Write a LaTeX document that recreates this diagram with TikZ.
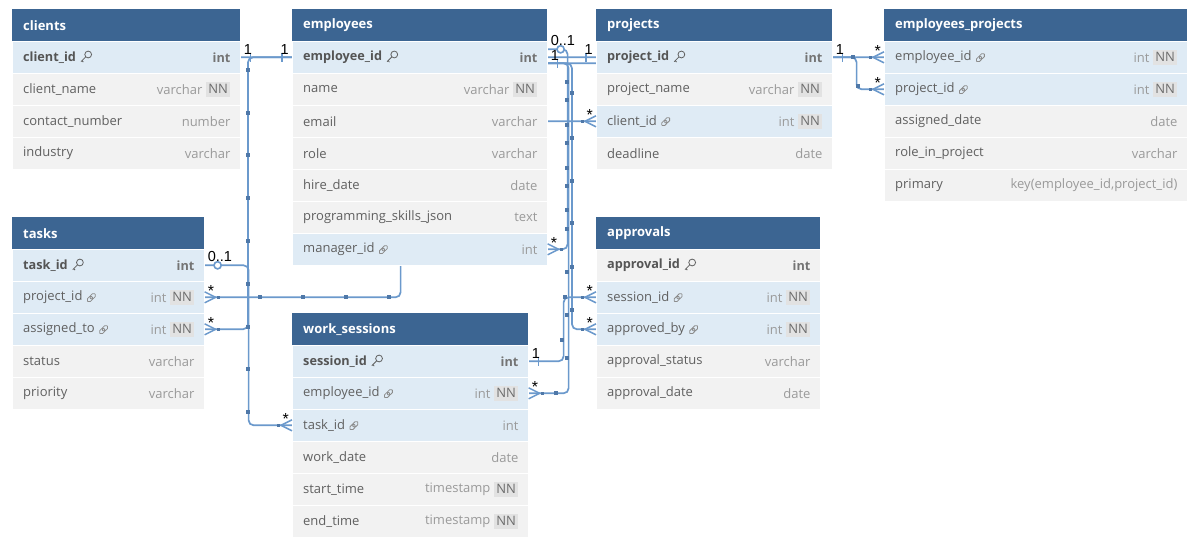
\documentclass[tikz,border=0pt]{standalone}
\usepackage{fontspec}
\setmainfont{Open Sans}
\newfontfamily\lblfont{Liberation Sans}
\usetikzlibrary{calc}

\definecolor{hdrblue}{HTML}{3C6592}
\definecolor{rowb}{HTML}{DFEBF5}
\definecolor{rowg}{HTML}{F2F2F2}
\definecolor{lineblue}{HTML}{6B99CC}
\definecolor{hndblue}{HTML}{4F78A8}
\definecolor{fldgray}{HTML}{606060}
\definecolor{keygray}{HTML}{555555}
\definecolor{tygray}{HTML}{9A9A9A}
\definecolor{nngray}{HTML}{E2E2E2}

\pgfdeclarelayer{canvas}
\pgfdeclarelayer{wires}
\pgfsetlayers{canvas,wires,main}

\tikzset{
	hdr/.style={rectangle, fill=hdrblue, anchor=north west, minimum height=32, inner sep=0},
	title/.style={font=\fontsize{13}{15}\selectfont\bfseries, text=white, inner sep=0, anchor=west},
	row/.style={rectangle, anchor=north west, minimum height=32, inner sep=0, draw=white, line width=0.6},
	fld/.style={font=\fontsize{13}{15}\selectfont, text=fldgray, inner sep=0, anchor=west},
	fn-keyicon/.style={font=\fontsize{12.7}{15}\selectfont\bfseries, text=keygray},
	fn-linkicon/.style={}, fn-noicon/.style={},
	ty/.style={font=\fontsize{13}{15}\selectfont, text=tygray, inner sep=0, anchor=east},
	ty-keyicon/.style={font=\fontsize{12.7}{15}\selectfont\bfseries, text=tygray!75!black},
	ty-linkicon/.style={}, ty-noicon/.style={},
	nnbox/.style={font=\fontsize{13}{15}\selectfont, text=gray!85!black, fill=nngray, inner xsep=2.5, inner ysep=3, anchor=east},
	icon/.style={draw=gray!90, line width=0.8},
	card/.style={font=\lblfont\fontsize{14.5}{14}\selectfont, inner sep=1, text=black},
	star/.style={card, font=\lblfont\fontsize{16}{14}\selectfont},
	conn/.style={draw=lineblue, line width=1.7, rounded corners=5}
}

% one table: name, x, y, width, title, rows
\newcommand{\dbtable}[6]{
	\node[hdr, minimum width=#4] (#1) at (#2,#3) {};
	\node[title] (#1-h) at ([xshift=11]#1.west) {#5};
	\foreach \fname/\ftype/\fbg/\ficon/\fnn [count=\i] in {#6} {
		\node[row, fill=\fbg, minimum width=#4] (#1-\i) at (#2,#3+32*\i) {};
		\node[fld, fn-\ficon] (#1-\i-n) at ([xshift=11]#1-\i.west) {\fname};
		\pic at ([xshift=4]#1-\i-n.east) {\ficon};
		\if y\fnn
			\node[nnbox] (#1-\i-nn) at ([xshift=-10]#1-\i.east) {NN};
			\node[ty, ty-\ficon] (#1-\i-t) at ([xshift=-3]#1-\i-nn.west) {\ftype};
		\else
			\node[ty, ty-\ficon] (#1-\i-t) at ([xshift=-10]#1-\i.east) {\ftype};
		\fi
	}
}

\begin{document}
\begin{tikzpicture}[x=1pt, y=-1pt,
		keyicon/.pic={\draw[icon, draw=fldgray] (8,-2.8) circle (3.4) (5.5,-0.3) -- (0.8,4.4) (1.8,3.4) -- (3.2,4.8);},
		linkicon/.pic={\draw[icon, rounded corners=1.6, shift={(1,4)}, rotate=45] (0,-2) rectangle (6.2,2) (4,-2) rectangle (10.2,2);},
		noicon/.pic={},
		many/.pic={\draw[lineblue, line width=1.5] (0,-5.5) -- (11,0) -- (0,5.5); \fill[hndblue] (12,-1.6) rectangle (15.2,1.6);},
		one/.pic={\draw[lineblue, line width=1.7] (10,-4.5) -- (10,4.5);},
		zeroone/.pic={\draw[lineblue, line width=1.6, fill=white] (13,0) circle (3.6);}
	]
	\useasboundingbox (0,0) rectangle (1192,540);
	\begin{pgfonlayer}{canvas}
		\fill[white] (0,0) rectangle (1192,540);
	\end{pgfonlayer}

	\dbtable{clients}{12}{9}{228}{clients}{
		client\_id/int/rowb/keyicon/n,
		client\_name/varchar/rowg/noicon/y,
		contact\_number/number/rowg/noicon/n,
		industry/varchar/rowg/noicon/n}
	\dbtable{employees}{292}{9}{255}{employees}{
		employee\_id/int/rowb/keyicon/n,
		name/varchar/rowg/noicon/y,
		email/varchar/rowg/noicon/n,
		role/varchar/rowg/noicon/n,
		hire\_date/date/rowg/noicon/n,
		programming\_skills\_json/text/rowg/noicon/n,
		manager\_id/int/rowb/linkicon/n}
	\dbtable{projects}{596}{9}{236}{projects}{
		project\_id/int/rowb/keyicon/n,
		project\_name/varchar/rowg/noicon/y,
		client\_id/int/rowb/linkicon/y,
		deadline/date/rowg/noicon/n}
	\dbtable{empproj}{884}{9}{303}{employees\_projects}{
		employee\_id/int/rowb/linkicon/y,
		project\_id/int/rowb/linkicon/y,
		assigned\_date/date/rowg/noicon/n,
		role\_in\_project/varchar/rowg/noicon/n,
		primary/{key(employee\_id,project\_id)}/rowg/noicon/n}
	\dbtable{tasks}{12}{217}{192}{tasks}{
		task\_id/int/rowb/keyicon/n,
		project\_id/int/rowb/linkicon/y,
		assigned\_to/int/rowb/linkicon/y,
		status/varchar/rowg/noicon/n,
		priority/varchar/rowg/noicon/n}
	\dbtable{worksessions}{292}{313}{236}{work\_sessions}{
		session\_id/int/rowb/keyicon/n,
		employee\_id/int/rowb/linkicon/y,
		task\_id/int/rowb/linkicon/n,
		work\_date/date/rowg/noicon/n,
		start\_time/timestamp/rowg/noicon/y,
		end\_time/timestamp/rowg/noicon/y}
	\dbtable{approvals}{596}{217}{224}{approvals}{
		approval\_id/int/rowg/keyicon/n,
		session\_id/int/rowb/linkicon/y,
		approved\_by/int/rowb/linkicon/y,
		approval\_status/varchar/rowg/noicon/n,
		approval\_date/date/rowg/noicon/n}

	% relations, drawn under the tables
	\begin{pgfonlayer}{wires}
		\draw[conn] (employees-1.west) -- ++(-44,0) |- (tasks-3.east);
		\draw[conn] (clients-1.east) -- ++(180,0) |- (projects-3.west);
		\draw[conn] (tasks-1.east) -- ++(44,0) |- (worksessions-3.west);
		\draw[conn] (tasks-2.east) -- ++(196,0) |- (projects-1.west);
		\draw[conn] ([yshift=8]employees-1.east) -- ++(20,0) |- (employees-7.east);
		\draw[conn] (worksessions-2.east) -- ++(40,0) |- ([yshift=-6]employees-1.east);
		\draw[conn] (approvals-3.west) -- ++(-24,0) |- ([yshift=-6]employees-1.east);
		\draw[conn] (empproj-1.west) -- ++(-140,0) |- ([yshift=-6]employees-1.east);
		\draw[conn] (projects-1.east) -- ++(24,0) |- (empproj-2.west);
		\draw[conn] (worksessions-1.east) -- ++(35,0) |- (approvals-2.west);
		% handles
		\foreach \hx/\hy in {248/70, 248/113, 248/155, 248/198, 248/241, 248/284, 248/327, 248/369, 248/412,
				260/297, 303/297, 346/297, 389/297,
				567/82, 567/100, 567/125, 567/143, 567/168, 567/186, 567/210, 567/229, 567/272, 567/315, 567/358,
				572/93, 572/138, 572/181, 572/223, 572/267, 572/310,
				562/340, 556/393, 565/297, 853/57, 858/86}
			\fill[hndblue] (\hx-1.6,\hy-1.6) rectangle ++(3.2,3.2);
	\end{pgfonlayer}

	% ends of the relations
	\pic at (clients-1.east) {one};
	\pic[xscale=-1] at (employees-1.west) {one};
	\pic at (tasks-1.east) {zeroone};
	\pic at (tasks-2.east) {many};
	\pic at (tasks-3.east) {many};
	\pic[xscale=-1] at (worksessions-3.west) {many};
	\pic at ([yshift=8]employees-1.east) {zeroone};
	\pic at ([yshift=-6]employees-1.east) {one};
	\pic at (employees-7.east) {many};
	\pic[xscale=-1] at (projects-1.west) {one};
	\pic[xscale=-1] at (projects-3.west) {many};
	\pic at (projects-1.east) {one};
	\pic[xscale=-1] at (empproj-1.west) {many};
	\pic[xscale=-1] at (empproj-2.west) {many};
	\pic at (worksessions-1.east) {one};
	\pic at (worksessions-2.east) {many};
	\pic[xscale=-1] at (approvals-2.west) {many};
	\pic[xscale=-1] at (approvals-3.west) {many};

	% cardinalities
	\node[card, anchor=south west] (k1) at ([xshift=2,yshift=2]clients-1.east) {1};
	\node[card, anchor=south east] (k2) at ([xshift=-2,yshift=2]employees-1.west) {1};
	\node[card, anchor=south west] (k3) at ([xshift=2,yshift=2]tasks-1.east) {0..1};
	\node[star, anchor=south west] (k4) at ([xshift=2,yshift=0]tasks-2.east) {*};
	\node[star, anchor=south west] (k5) at ([xshift=2,yshift=0]tasks-3.east) {*};
	\node[star, anchor=south east] (k6) at ([xshift=-2,yshift=0]worksessions-3.west) {*};
	\node[card, anchor=south west] (k7) at ([xshift=2,yshift=10]employees-1.east) {0..1};
	\node[card, anchor=south west] (k8) at ([xshift=2,yshift=-4]employees-1.east) {1};
	\node[star, anchor=south west] (k9) at ([xshift=2,yshift=0]employees-7.east) {*};
	\node[card, anchor=south east] (k10) at ([xshift=-2,yshift=2]projects-1.west) {1};
	\node[star, anchor=south east] (k11) at ([xshift=-2,yshift=0]projects-3.west) {*};
	\node[card, anchor=south west] (k12) at ([xshift=2,yshift=2]projects-1.east) {1};
	\node[star, anchor=south east] (k13) at ([xshift=-2,yshift=0]empproj-1.west) {*};
	\node[star, anchor=south east] (k14) at ([xshift=-2,yshift=0]empproj-2.west) {*};
	\node[card, anchor=south west] (k15) at ([xshift=2,yshift=2]worksessions-1.east) {1};
	\node[star, anchor=south west] (k16) at ([xshift=2,yshift=0]worksessions-2.east) {*};
	\node[star, anchor=south east] (k17) at ([xshift=-2,yshift=0]approvals-2.west) {*};
	\node[star, anchor=south east] (k18) at ([xshift=-2,yshift=0]approvals-3.west) {*};
\end{tikzpicture}
\end{document}
